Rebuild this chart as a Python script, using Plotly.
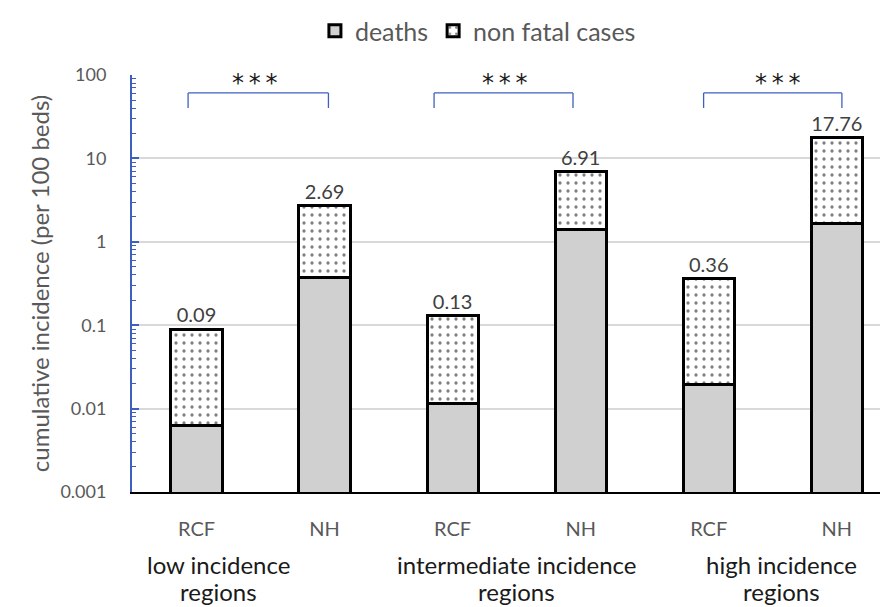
import plotly.graph_objects as go

# ---- data ----
bar_labels = ["RCF", "NH", "RCF", "NH", "RCF", "NH"]
deaths = [0.0062, 0.37, 0.0114, 1.42, 0.0192, 1.68]
totals = [0.09, 2.69, 0.13, 6.91, 0.36, 17.76]
group_labels = ["low incidence<br>regions", "intermediate incidence<br>regions", "high incidence<br>regions"]
signif = ["***", "***", "***"]
ytick_vals = [0.001, 0.01, 0.1, 1, 10, 100]
ytick_text = ["0.001", "0.01", "0.1", "1", "10", "100"]

xpos = list(range(len(bar_labels)))
nonfatal = [t - d for t, d in zip(totals, deaths)]
minor_vals = [m * d for d in ytick_vals[:-1] for m in range(2, 10)]

FONT = "Lato"
BLUE = "#3F5FBF"

fig = go.Figure()
fig.add_trace(go.Bar(
    x=xpos, y=deaths, name="deaths", width=0.4,
    marker=dict(color="#D0D0D0", line=dict(color="black", width=3)),
))
fig.add_trace(go.Bar(
    x=xpos, y=nonfatal, name="non fatal cases", width=0.4,
    marker=dict(color="white", line=dict(color="black", width=3),
                pattern=dict(shape=".", fgcolor="black", bgcolor="white", size=8, solidity=0.13)),
    text=[f"{v:.2f}" for v in totals], textposition="outside",
    textfont=dict(family=FONT, size=20, color="#404040"), cliponaxis=False,
))

# group labels (two lines each)
group_x = [0.17, 2.5, 4.57]
line_y = [-0.175, -0.238]
annotations = []
for gx, gl in zip(group_x, group_labels):
    for ly, part in zip(line_y, gl.split("<br>")):
        annotations.append(dict(x=gx, y=ly, xref="x", yref="paper", text=part, showarrow=False,
                                yanchor="middle", font=dict(family=FONT, size=24, color="#1a1a1a")))

# significance brackets
brackets = [(-0.066, 1.03), (1.855, 2.94), (3.96, 5.04)]
star_x = [0.457, 2.41, 4.54]
shapes = []
for (x0, x1), sx, s in zip(brackets, star_x, signif):
    shapes.append(dict(type="line", xref="x", yref="paper", x0=x0, x1=x0, y0=0.921, y1=0.957,
                       line=dict(color=BLUE, width=1.3)))
    shapes.append(dict(type="line", xref="x", yref="paper", x0=x0, x1=x1, y0=0.957, y1=0.957,
                       line=dict(color=BLUE, width=1.3)))
    shapes.append(dict(type="line", xref="x", yref="paper", x0=x1, x1=x1, y0=0.921, y1=0.957,
                       line=dict(color=BLUE, width=1.3)))
    annotations.append(dict(x=sx, y=0.982, xref="x", yref="paper", text="\u2009".join(s), showarrow=False,
                            yanchor="middle", font=dict(family="DejaVu Sans", size=24, color="#1a1a1a")))

fig.update_layout(
    width=880, height=599,
    margin=dict(l=124, r=0, t=67, b=115),
    barmode="stack",
    plot_bgcolor="white", paper_bgcolor="white",
    font=dict(family=FONT, color="#595959"),
    showlegend=True,
    legend=dict(orientation="h", x=0.534, xanchor="center", xref="container",
                y=1.0, yref="container", yanchor="top",
                font=dict(family=FONT, size=25, color="#595959"), itemwidth=30, traceorder="normal"),
    xaxis=dict(range=[-0.504, 5.4], tickvals=xpos, ticktext=bar_labels, showgrid=False,
               showline=True, linecolor="black", linewidth=2, ticks="", zeroline=False,
               ticklabelstandoff=18, tickfont=dict(family=FONT, size=20, color="#595959")),
    yaxis=dict(type="log", range=[-3, 2], tickvals=ytick_vals, ticktext=ytick_text,
               showgrid=True, gridcolor="#D9D9D9", gridwidth=1.5,
               showline=True, linecolor=BLUE, linewidth=2,
               ticks="inside", ticklen=7, tickcolor=BLUE, tickwidth=1.5,
               minor=dict(tickvals=minor_vals, ticks="inside", ticklen=4, tickcolor=BLUE,
                          tickwidth=1.2, showgrid=False),
               ticklabelstandoff=20,
               tickfont=dict(family=FONT, size=18, color="#595959"),
               title=dict(text="cumulative incidence (per 100 beds)", standoff=4,
                          font=dict(family=FONT, size=24, color="#595959"))),
    annotations=annotations,
    shapes=shapes,
)

fig.write_html("out.html")
